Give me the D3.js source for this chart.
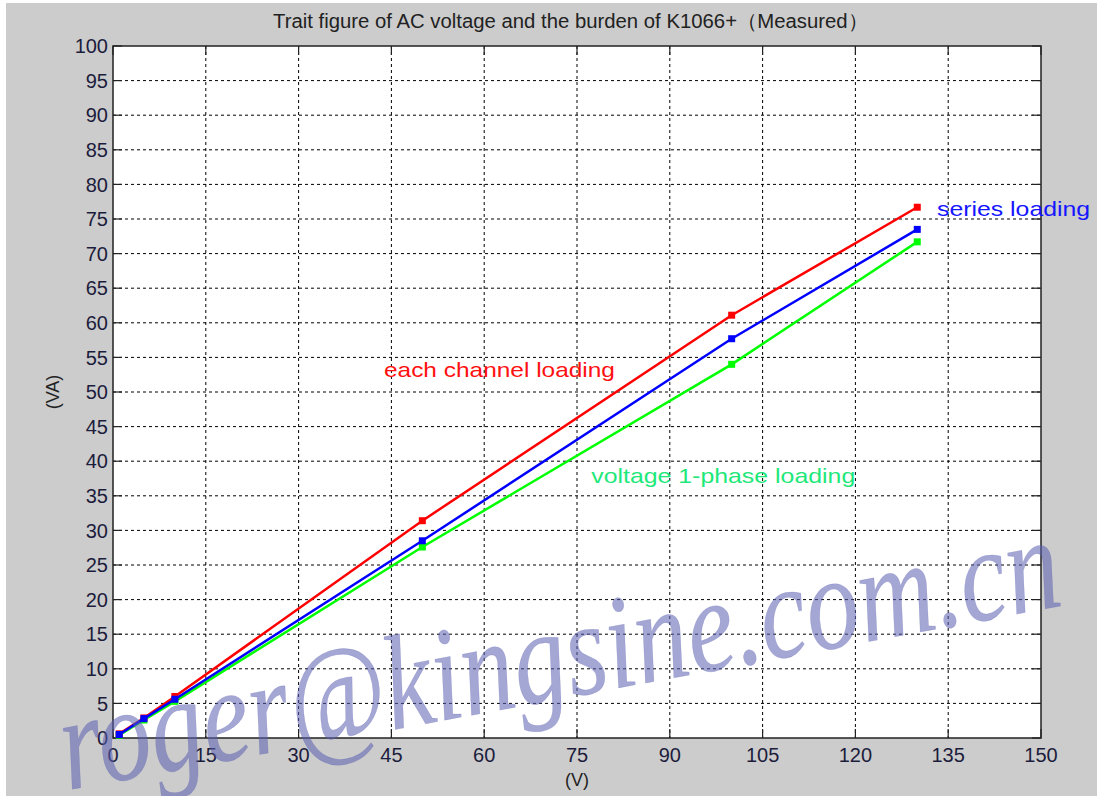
<!DOCTYPE html>
<html>
<head>
<meta charset="UTF-8">
<style>
body { margin: 0; padding: 0; background: #ffffff; }
svg { display: block; }
</style>
</head>
<body>
<svg></svg>
<script src="https://d3js.org/d3.v7.min.js"></script>
<script>
// measured voltage (V) vs burden (VA)
const volts = [1, 5, 10, 50, 100, 130];
const eachChannel = [0.6, 2.9, 6.0, 31.4, 61.1, 76.7];
const seriesLoad = [0.5, 2.8, 5.6, 28.5, 57.7, 73.5];
const onePhase = [0.4, 2.6, 5.3, 27.6, 54.0, 71.7];

const xTicks = d3.range(0, 151, 15);
const yTicks = d3.range(0, 101, 5);

const titleText = "Trait figure of AC voltage and the burden of K1066+（Measured）";
const watermark = "roger@kingsine.com.cn";

// series labels: text, colour, anchor point in data units
const labels = [
  { text: "each channel loading", color: "#ff1010", x: 43.8, y: 52.2, len: 231 },
  { text: "series loading", color: "#1515ff", x: 133.2, y: 75.4, len: 153 },
  { text: "voltage 1-phase loading", color: "#1ee87a", x: 77.3, y: 36.8, len: 264 }
];

const width = 1105, height = 796;
const margin = { left: 113, top: 46, right: 64, bottom: 58 };
const pw = width - margin.left - margin.right;
const ph = height - margin.top - margin.bottom;

const svg = d3.select("svg").attr("width", width).attr("height", height);

svg.append("rect")
  .attr("x", 6).attr("y", 3)
  .attr("width", 1091).attr("height", 793)
  .attr("fill", "#cccccc");

const x = d3.scaleLinear().domain([0, 150]).range([0, pw]);
const y = d3.scaleLinear().domain([0, 100]).range([ph, 0]);

const g = svg.append("g").attr("transform", `translate(${margin.left},${margin.top})`);

g.append("rect").attr("width", pw).attr("height", ph).attr("fill", "#ffffff");

// dashed grid
g.selectAll(".vgrid").data(xTicks.slice(1, -1)).enter().append("line")
  .attr("x1", d => x(d)).attr("x2", d => x(d))
  .attr("y1", 0).attr("y2", ph)
  .attr("stroke", "#000").attr("stroke-width", 1)
  .attr("stroke-dasharray", "3,3");

g.selectAll(".hgrid").data(yTicks.slice(1, -1)).enter().append("line")
  .attr("y1", d => y(d)).attr("y2", d => y(d))
  .attr("x1", 0).attr("x2", pw)
  .attr("stroke", "#000").attr("stroke-width", 1)
  .attr("stroke-dasharray", "3,3");

// inward ticks on all four sides
const tl = 9;
const tickG = g.append("g").attr("stroke", "#222").attr("stroke-width", 1.2);
xTicks.forEach(d => {
  tickG.append("line").attr("x1", x(d)).attr("x2", x(d)).attr("y1", ph).attr("y2", ph - tl);
  tickG.append("line").attr("x1", x(d)).attr("x2", x(d)).attr("y1", 0).attr("y2", tl);
});
yTicks.forEach(d => {
  tickG.append("line").attr("y1", y(d)).attr("y2", y(d)).attr("x1", 0).attr("x2", tl);
  tickG.append("line").attr("y1", y(d)).attr("y2", y(d)).attr("x1", pw).attr("x2", pw - tl);
});

g.append("rect").attr("width", pw).attr("height", ph)
  .attr("fill", "none").attr("stroke", "#222").attr("stroke-width", 1.5);

// tick labels
g.selectAll(".xl").data(xTicks).enter().append("text")
  .attr("x", d => x(d)).attr("y", ph + 24)
  .attr("text-anchor", "middle")
  .attr("font-family", "Arial, 'Liberation Sans', sans-serif")
  .attr("font-size", "20px").attr("fill", "#1c1c3c")
  .text(d => d);

g.selectAll(".yl").data(yTicks).enter().append("text")
  .attr("x", -5).attr("y", d => y(d)).attr("dy", "0.36em")
  .attr("text-anchor", "end")
  .attr("font-family", "Arial, 'Liberation Sans', sans-serif")
  .attr("font-size", "20px").attr("fill", "#1c1c3c")
  .text(d => d);

// axis labels
g.append("text")
  .attr("x", pw / 2).attr("y", ph + 48)
  .attr("text-anchor", "middle")
  .attr("font-family", "Arial, 'Liberation Sans', sans-serif")
  .attr("font-size", "18px").attr("fill", "#222")
  .text("(V)");

g.append("text")
  .attr("transform", `translate(${-54},${y(50)}) rotate(-90)`)
  .attr("text-anchor", "middle")
  .attr("font-family", "Arial, 'Liberation Sans', sans-serif")
  .attr("font-size", "18px").attr("fill", "#222")
  .text("(VA)");

// title
svg.append("text")
  .attr("x", 273).attr("y", 28)
  .attr("font-family", "Arial, 'Liberation Sans', sans-serif")
  .attr("font-size", "20px").attr("fill", "#222")
  .attr("textLength", 595).attr("lengthAdjust", "spacingAndGlyphs")
  .text(titleText);

// series
const series = [
  { values: onePhase, color: "#00ff00" },
  { values: eachChannel, color: "#ff0000" },
  { values: seriesLoad, color: "#0000ff" }
];

const line = d3.line().x(d => x(d[0])).y(d => y(d[1]));

series.forEach(s => {
  const pts = volts.map((v, i) => [v, s.values[i]]);
  g.append("path").datum(pts)
    .attr("d", line)
    .attr("fill", "none")
    .attr("stroke", s.color)
    .attr("stroke-width", 2.5);
  g.selectAll(null).data(pts).enter().append("rect")
    .attr("x", d => x(d[0]) - 3.5).attr("y", d => y(d[1]) - 3.5)
    .attr("width", 7).attr("height", 7)
    .attr("fill", s.color);
});

// series labels
labels.forEach(l => {
  g.append("text")
    .attr("x", x(l.x)).attr("y", y(l.y))
    .attr("font-family", "Arial, 'Liberation Sans', sans-serif")
    .attr("font-size", "21px").attr("fill", l.color)
    .attr("textLength", l.len).attr("lengthAdjust", "spacingAndGlyphs")
    .text(l.text);
});

// watermark
svg.append("text")
  .attr("transform", "translate(68,790) rotate(-10.5) scale(0.83,1.05)")
  .attr("font-family", "'Liberation Serif', 'Times New Roman', serif")
  .attr("font-style", "italic")
  .attr("font-size", "128px")
  .attr("fill", "#5a5eb0")
  .attr("fill-opacity", 0.55)
  .attr("stroke", "#5a5eb0")
  .attr("stroke-opacity", 0.3)
  .attr("stroke-width", 0.6)
  .text(watermark);
</script>
</body>
</html>
